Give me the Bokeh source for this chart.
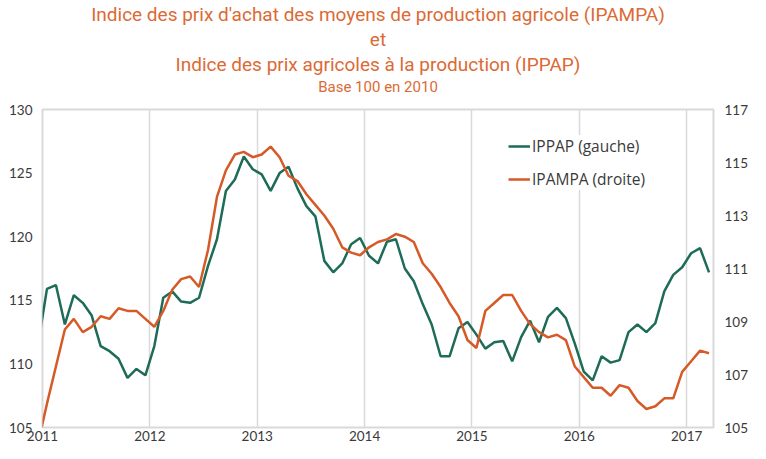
import pandas as pd
from bokeh.plotting import figure
from bokeh.models import Range1d, LinearAxis, FixedTicker, Legend, LegendItem, Title, ColumnDataSource
from bokeh.embed import file_html
from bokeh.resources import INLINE

# Monthly data, Dec 2010 .. Mar 2017 (Dec 2010 lies just outside the visible range)
months = pd.date_range("2010-12-01", "2017-03-01", freq="MS")

ippap = [111.5,
         115.9, 116.2, 113.1, 115.4, 114.8, 113.8, 111.4, 111.0, 110.4, 108.9, 109.6, 109.1,
         111.4, 115.2, 115.7, 114.9, 114.8, 115.2, 117.7, 119.8, 123.6, 124.5, 126.3, 125.3,
         124.9, 123.6, 125.0, 125.5, 123.8, 122.4, 121.6, 118.1, 117.2, 117.9, 119.4, 119.9,
         118.5, 117.9, 119.6, 119.8, 117.5, 116.5, 114.7, 113.1, 110.6, 110.6, 112.8, 113.3,
         112.3, 111.2, 111.7, 111.8, 110.2, 112.1, 113.4, 111.7, 113.7, 114.4, 113.6, 111.6,
         109.4, 108.7, 110.6, 110.1, 110.3, 112.5, 113.1, 112.5, 113.2, 115.7, 117.0, 117.6,
         118.7, 119.1, 117.2]

ipampa = [104.4,
          105.9, 107.3, 108.7, 109.1, 108.6, 108.8, 109.2, 109.1, 109.5, 109.4, 109.4, 109.1,
          108.8, 109.4, 110.2, 110.6, 110.7, 110.3, 111.7, 113.7, 114.7, 115.3, 115.4, 115.2,
          115.3, 115.6, 115.2, 114.5, 114.3, 113.8, 113.4, 113.0, 112.5, 111.8, 111.6, 111.5,
          111.8, 112.0, 112.1, 112.3, 112.2, 112.0, 111.2, 110.8, 110.3, 109.7, 109.2, 108.3,
          108.0, 109.4, 109.7, 110.0, 110.0, 109.4, 108.9, 108.6, 108.4, 108.5, 108.3, 107.3,
          106.9, 106.5, 106.5, 106.2, 106.6, 106.5, 106.0, 105.7, 105.8, 106.1, 106.1, 107.1,
          107.5, 107.9, 107.8]

year_labels = ["2011", "2012", "2013", "2014", "2015", "2016", "2017"]
left_ticks = [105, 110, 115, 120, 125, 130]
right_ticks = [105, 107, 109, 111, 113, 115, 117]

title_lines = ["Indice des prix d'achat des moyens de production agricole (IPAMPA)",
               "et",
               "Indice des prix agricoles à la production (IPPAP)"]
subtitle = "Base 100 en 2010"

GREEN = "#1e6b58"
ORANGE = "#d55a28"
TITLE_C = "#dc6a35"
GRID = "#d9d9d9"
TXT = "#3a3a3a"
FONT = "Lato"
TFONT = "Roboto"
LFONT = "Open Sans"

# month positions: middle of each month, 0 = start of Jan 2011
xpos = [(d.year - 2011) * 12 + (d.month - 1) + 0.5 for d in months]
src = ColumnDataSource(dict(x=xpos, ippap=ippap, ipampa=ipampa))

p = figure(width=750, height=443, output_backend="svg", toolbar_location=None,
           x_range=Range1d(0, 75), y_range=Range1d(105, 130),
           min_border_left=42, min_border_right=29, min_border_top=8, min_border_bottom=4)
p.extra_y_ranges = {"right": Range1d(105, 117)}

p.title = None
# small blank spacer between the subtitle and the plot frame
p.add_layout(Title(text=" ", text_font_size="11px", standoff=0), "above")
p.add_layout(Title(text=subtitle, align="center", text_font=TFONT, text_font_size="15px",
                   text_color=TITLE_C, text_font_style="normal", standoff=0), "above")
for t in reversed(title_lines):
    p.add_layout(Title(text=t, align="center", text_font=TFONT, text_font_size="19px",
                       text_color=TITLE_C, text_font_style="normal", standoff=0), "above")

p.outline_line_color = GRID
p.outline_line_width = 2
p.background_fill_color = "white"
p.border_fill_color = "white"

p.ygrid.grid_line_color = None
p.xgrid.ticker = FixedTicker(ticks=[12 * i for i in range(len(year_labels))])
p.xgrid.grid_line_color = GRID
p.xgrid.grid_line_width = 1.5

xa = p.xaxis[0]
xa.ticker = FixedTicker(ticks=[12 * i for i in range(len(year_labels))])
xa.major_label_overrides = {12 * i: lab for i, lab in enumerate(year_labels)}

ya = p.yaxis[0]
ya.ticker = FixedTicker(ticks=left_ticks)

ra = LinearAxis(y_range_name="right", ticker=FixedTicker(ticks=right_ticks))
p.add_layout(ra, "right")

for ax in [xa, ya, ra]:
    ax.axis_line_color = None
    ax.major_tick_line_color = None
    ax.minor_tick_line_color = None
    ax.major_tick_in = 0
    ax.major_tick_out = 0
    ax.major_label_text_font = FONT
    ax.major_label_text_font_size = "13.5px"
    ax.major_label_text_color = TXT
xa.major_label_standoff = 3
ya.major_label_standoff = 10
ra.major_label_standoff = 11

r1 = p.line("x", "ippap", source=src, line_color=GREEN, line_width=2.5)
r2 = p.line("x", "ipampa", source=src, line_color=ORANGE, line_width=2.5, y_range_name="right")

legend = Legend(items=[LegendItem(label="IPPAP (gauche)", renderers=[r1]),
                       LegendItem(label="IPAMPA (droite)", renderers=[r2])],
                location=(466, 237), orientation="vertical")
legend.label_text_font = LFONT
legend.label_text_font_size = "15.5px"
legend.label_text_color = TXT
legend.glyph_width = 22
legend.glyph_height = 20
legend.label_standoff = 2
legend.spacing = 11
legend.padding = 6
legend.margin = 0
legend.border_line_color = None
legend.background_fill_color = "white"
legend.background_fill_alpha = 1.0
p.add_layout(legend, "center")

open("out.html", "w").write(file_html(p, INLINE))
